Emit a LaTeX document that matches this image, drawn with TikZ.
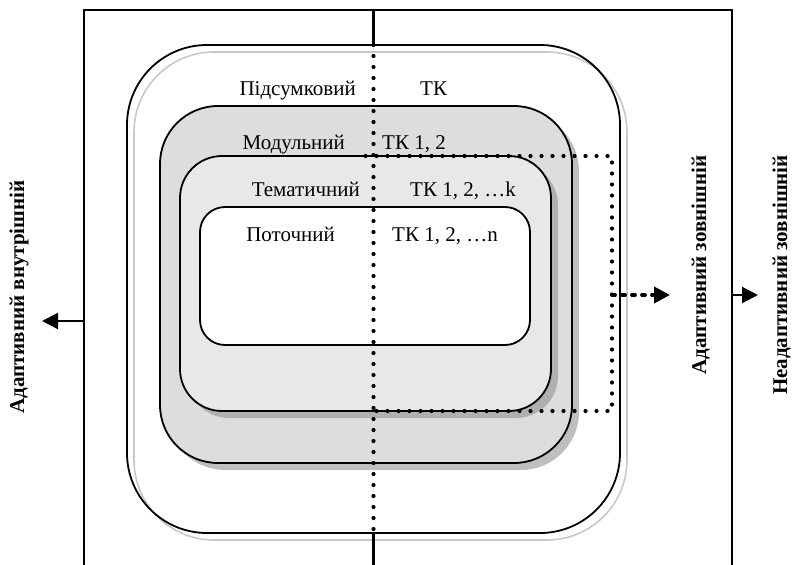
\documentclass[tikz,border=0pt]{standalone}
\usepackage{fontspec}
\setmainfont{Liberation Serif}
\usetikzlibrary{arrows.meta}
\begin{document}
\begin{tikzpicture}[x=1pt,y=-1pt,
  frameline/.style={line width=2.2pt},
  roundbox/.style={draw, line width=1.8pt, inner sep=0pt, outer sep=0pt},
  shadowbox/.style={inner sep=0pt, outer sep=0pt},
  dotline/.style={line width=4.2pt, line cap=round, dash pattern=on 0pt off 11pt},
  dashline/.style={line width=3.8pt, line cap=round, dash pattern=on 3pt off 7pt},
  lbl/.style={font=\fontsize{21}{25}\selectfont, inner sep=0pt},
  vlbl/.style={font=\fontsize{21}{25}\selectfont\bfseries, rotate=90, inner sep=0pt, anchor=base},
  tip/.style={-{Triangle[length=16pt,width=16pt]}}
]
\useasboundingbox (0,0) rectangle (793,565);
% frame
\coordinate (fTL) at (84,10);
\coordinate (fTR) at (732,10);
\coordinate (fBL) at (84,565);
\coordinate (fBR) at (732,565);
% nested boxes
\node[shadowbox, draw=gray!43, line width=1.6pt, rounded corners=80pt, minimum width=493pt, minimum height=488pt] (outershadow) at (380.5,296) {};
\node[roundbox, rounded corners=80pt, minimum width=493pt, minimum height=488pt] (outerbox) at (373.5,289) {};
\node[shadowbox, fill=gray!51, rounded corners=58pt, minimum width=412pt, minimum height=357pt] (modshadow) at (373,291.5) {};
\node[roundbox, fill=gray!27, rounded corners=58pt, minimum width=412pt, minimum height=357pt] (modbox) at (366,284.5) {};
\node[shadowbox, fill=gray!62, rounded corners=42pt, minimum width=371pt, minimum height=255pt] (themshadow) at (372.5,290.5) {};
\node[roundbox, fill=gray!18, rounded corners=42pt, minimum width=371pt, minimum height=255pt] (thembox) at (365.5,283.5) {};
\node[roundbox, fill=white, rounded corners=25pt, minimum width=330pt, minimum height=138pt] (curbox) at (365,276) {};
% frame lines
\draw[frameline] (fBL) -- (fTL) -- (fTR) -- (fBR);
\draw[frameline] (outerbox.north |- fTL) -- (outerbox.north);
\draw[frameline] (outerbox.south) -- (outerbox.south |- fBL);
% dotted lines
\draw[dotline] (outerbox.north) -- (outerbox.south);
\coordinate (dR) at (612,0);
\draw[dotline] (thembox.north) -- (thembox.north -| dR) -- (thembox.south -| dR) -- (thembox.south);
% arrows
\coordinate (dA) at (612,295);
\coordinate (dAend) at (670,295);
\draw[dashline, tip] (dA) -- (dAend);
\coordinate (rA) at (732,295);
\coordinate (rAend) at (758,295);
\draw[frameline, tip] (rA) -- (rAend);
\coordinate (lA) at (84,321);
\coordinate (lAend) at (42,321);
\draw[frameline, tip] (lA) -- (lAend);
% labels
\node[lbl, anchor=base east] (lPid) at (356,95) {Підсумковий};
\node[lbl, anchor=base west] (lTK) at (420,95) {ТК};
\node[lbl, anchor=base east] (lMod) at (345,149.5) {Модульний};
\node[lbl, anchor=base west] (lTK12) at (382,149.5) {ТК 1, 2};
\node[lbl, anchor=base east] (lThem) at (360,196) {Тематичний};
\node[lbl, anchor=base west] (lTKk) at (410,196) {ТК 1, 2, …k};
\node[lbl, anchor=base east] (lCur) at (335,241.5) {Поточний};
\node[lbl, anchor=base west] (lTKn) at (392,241.5) {ТК 1, 2, …n};
\node[vlbl] (lAdIn) at (24,297) {Адаптивний внутрішній};
\node[vlbl] (lAdOut) at (706,265) {Адаптивний зовнішній};
\node[vlbl] (lNeOut) at (787,275) {Неадаптивний зовнішній};
\end{tikzpicture}
\end{document}
